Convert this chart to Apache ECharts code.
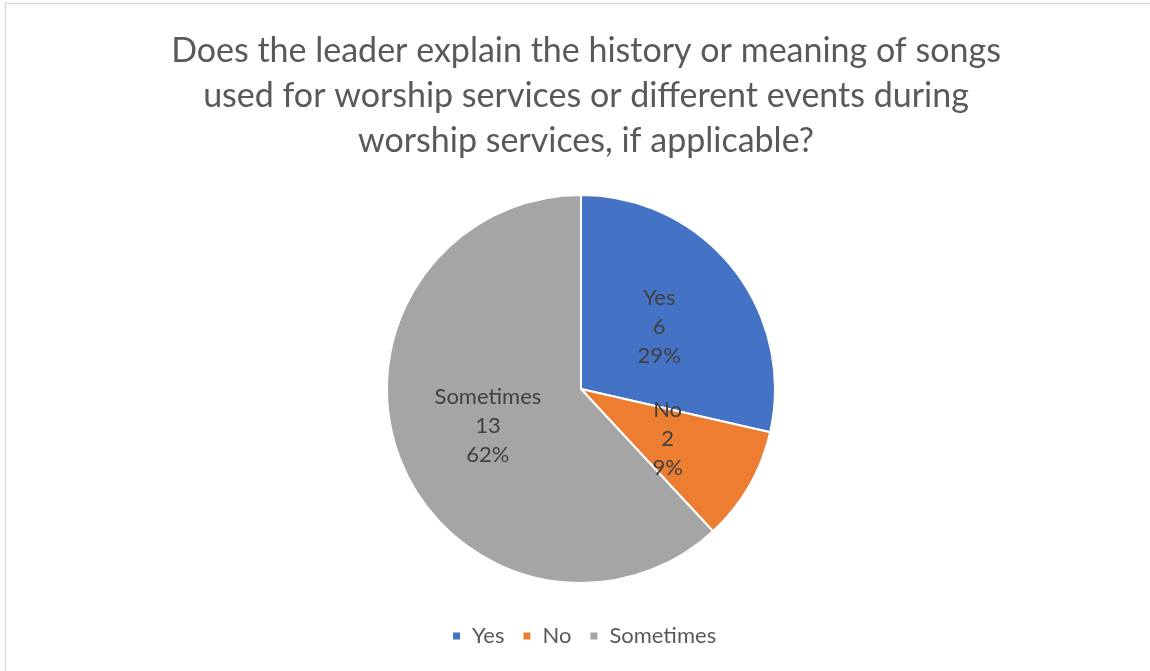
<!DOCTYPE html>
<html>
<head>
<meta charset="utf-8">
<script src="https://cdn.jsdelivr.net/npm/echarts@6/dist/echarts.min.js"></script>
<style>
  html, body { margin: 0; padding: 0; background: #fff; }
  #chart { width: 1150px; height: 671px; }
</style>
</head>
<body>
<div id="chart"></div>
<script>
// Survey answers for the worship-leader question
const categories = ['Yes', 'No', 'Sometimes'];
const counts = [6, 2, 13];
const colors = ['#4472C4', '#ED7D31', '#A5A5A5'];
const titleText = 'Does the leader explain the history or meaning of songs\nused for worship services or different events during\nworship services, if applicable?';

const pieData = categories.map((name, i) => ({
  name: name,
  value: counts[i],
  itemStyle: { color: colors[i] }
}));

const chart = echarts.init(document.getElementById('chart'));
chart.setOption({
  backgroundColor: '#fff',
  animation: false,
  graphic: [{
    type: 'rect',
    shape: { x: 5.5, y: 3.5, width: 1200, height: 800 },
    style: { fill: 'none', stroke: '#D9D9D9', lineWidth: 1.5 },
    silent: true
  }],
  title: {
    text: titleText,
    left: 581,
    top: 24,
    textAlign: 'center',
    textStyle: {
      fontFamily: 'Lato',
      fontWeight: 'normal',
      fontSize: 34,
      lineHeight: 45,
      color: '#595959'
    }
  },
  legend: {
    data: categories,
    top: 620,
    left: 446,
    icon: 'rect',
    itemWidth: 9,
    itemHeight: 9,
    itemGap: 17,
    textStyle: { fontFamily: 'Lato', fontSize: 22, color: '#595959', padding: [0, 0, 0, 6] }
  },
  series: [{
    type: 'pie',
    center: [581, 389],
    radius: 194,
    startAngle: 90,
    clockwise: true,
    percentPrecision: 0,
    itemStyle: { borderColor: '#fff', borderWidth: 2 },
    label: {
      show: true,
      position: 'inside',
      formatter: '{b}\n{c}\n{d}%',
      fontFamily: 'Lato',
      fontSize: 22,
      lineHeight: 29,
      color: '#404040'
    },
    labelLine: { show: false },
    emphasis: { disabled: true },
    data: pieData
  }]
});
</script>
</body>
</html>
